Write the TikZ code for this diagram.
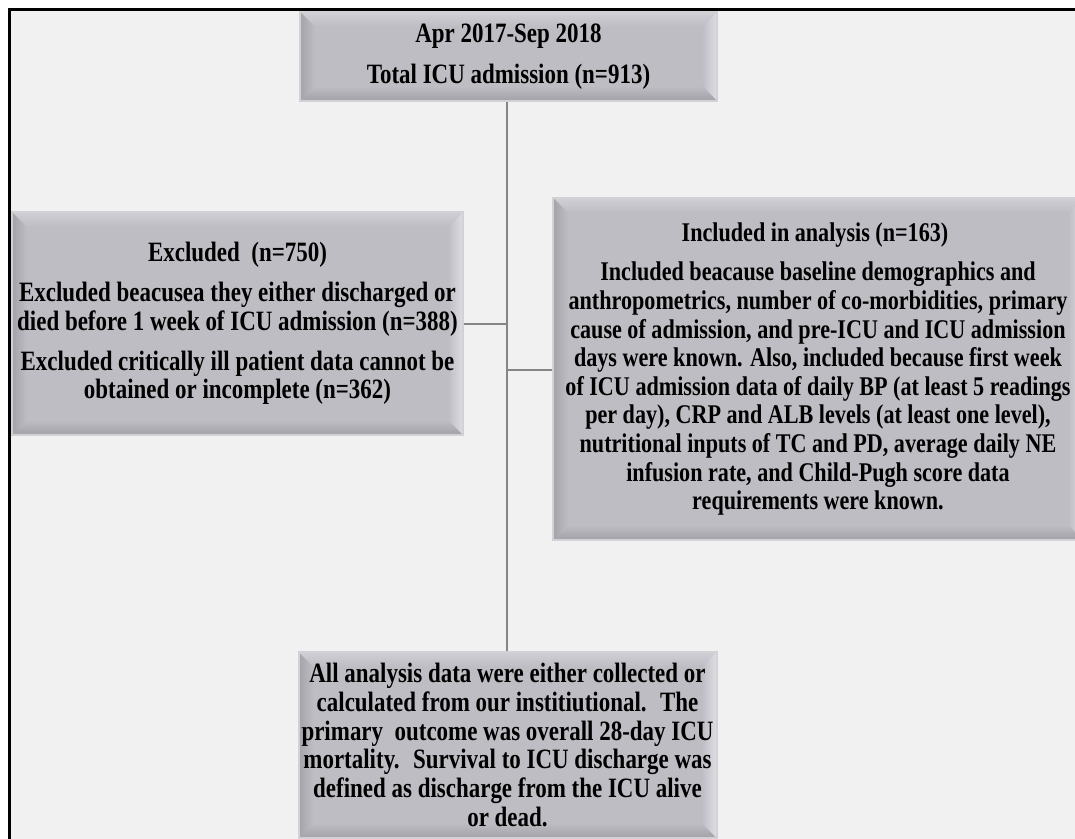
\documentclass[tikz,border=0pt]{standalone}
\usepackage{fontspec}
\newfontfamily\boxfamily{Liberation Serif}[FakeStretch=0.82]
\usetikzlibrary{calc}
\definecolor{bgc}{HTML}{F1F1F1}
\definecolor{bodyc}{HTML}{BEBDC3}
\definecolor{edgec}{HTML}{D2D2D6}
\definecolor{topbev}{HTML}{D0CFD5}
\definecolor{leftbev}{HTML}{A4A3A9}
\definecolor{rightbev}{HTML}{DEDEE5}
\definecolor{botbev}{HTML}{A2A1A7}
\definecolor{linec}{HTML}{858585}
\newcommand\boxfont{\boxfamily\bfseries\fontsize{28}{28.8}\selectfont}
\newcommand\inclfont{\boxfamily\bfseries\fontsize{27}{28.6}\selectfont}
\tikzset{
  bevelbox/.style={rectangle, fill=bodyc, draw=edgec, line width=2pt, inner sep=0pt,
    align=center, text=black, font=\boxfont,
    path picture={
      \coordinate (pnw) at (path picture bounding box.north west);
      \coordinate (pne) at (path picture bounding box.north east);
      \coordinate (psw) at (path picture bounding box.south west);
      \coordinate (pse) at (path picture bounding box.south east);
      \shade[top color=topbev, bottom color=bodyc]
        (pnw) -- (pne) -- ([xshift=-15pt,yshift=-15pt]pne) -- ([xshift=15pt,yshift=-15pt]pnw) -- cycle;
      \shade[left color=leftbev, right color=bodyc]
        (pnw) -- ([xshift=15pt,yshift=-15pt]pnw) -- ([xshift=15pt,yshift=15pt]psw) -- (psw) -- cycle;
      \shade[left color=bodyc, right color=rightbev]
        (pne) -- ([xshift=-15pt,yshift=-15pt]pne) -- ([xshift=-15pt,yshift=15pt]pse) -- (pse) -- cycle;
      \shade[top color=bodyc, bottom color=botbev]
        (psw) -- ([xshift=15pt,yshift=15pt]psw) -- ([xshift=-15pt,yshift=15pt]pse) -- (pse) -- cycle;
    }},
  conn/.style={draw=linec, line width=2pt}
}
\begin{document}
\begin{tikzpicture}[x=1pt,y=-1pt]
\useasboundingbox (0,0) rectangle (1075,838);
\clip (0,0) rectangle (1075,838);
\fill[white] (0,0) rectangle (1075,838);
\fill[bgc] (9.5,9) rectangle (1100,900);
\draw[black, line width=3pt] (9.5,900) -- (9.5,9) -- (1100,9);

\node[bevelbox, minimum width=417pt, minimum height=89pt] (top) at (508.5,56.5)
  {Apr 2017-Sep 2018\\[12pt]Total ICU admission (n=913)};

\node[bevelbox, minimum width=451pt, minimum height=223pt] (excl) at (237.5,323.5)
  {Excluded \ (n=750)\\[11pt]Excluded beacusea they either discharged or\\died before 1 week of ICU admission (n=388)\\[11pt]Excluded critically ill patient data cannot be\\obtained or incomplete (n=362)};

\node[bevelbox, font=\inclfont, minimum width=530pt, minimum height=342pt] (incl) at (818,369)
  {\hspace*{-6pt}Included in analysis (n=163)\\[11pt]Included beacause baseline demographics and\\anthropometrics, number of co-morbidities, primary\\cause of admission, and pre-ICU and ICU admission\\days were known. Also, included because first week\\of ICU admission data of daily BP (at least 5 readings\\per day), CRP and ALB levels (at least one level),\\nutritional inputs of TC and PD, average daily NE\\infusion rate, and Child-Pugh score data\\requirements were known.};

\node[bevelbox, minimum width=418pt, minimum height=186pt] (bot) at (507.5,745)
  {All analysis data were either collected or\\calculated from our institiutional. \ The\\primary \ outcome was overall 28-day ICU\\mortality. \ Survival to ICU discharge was\\defined as discharge from the ICU alive\\or dead.};

\coordinate (vtop) at (507,102);
\coordinate (j1) at (vtop |- excl.east);
\coordinate (j2) at (vtop |- 0,370);
\draw[conn] (vtop) -- (vtop |- bot.north);
\draw[conn] (excl.east) -- (j1);
\draw[conn] (j2) -- (j2 -| incl.west);
\end{tikzpicture}
\end{document}
